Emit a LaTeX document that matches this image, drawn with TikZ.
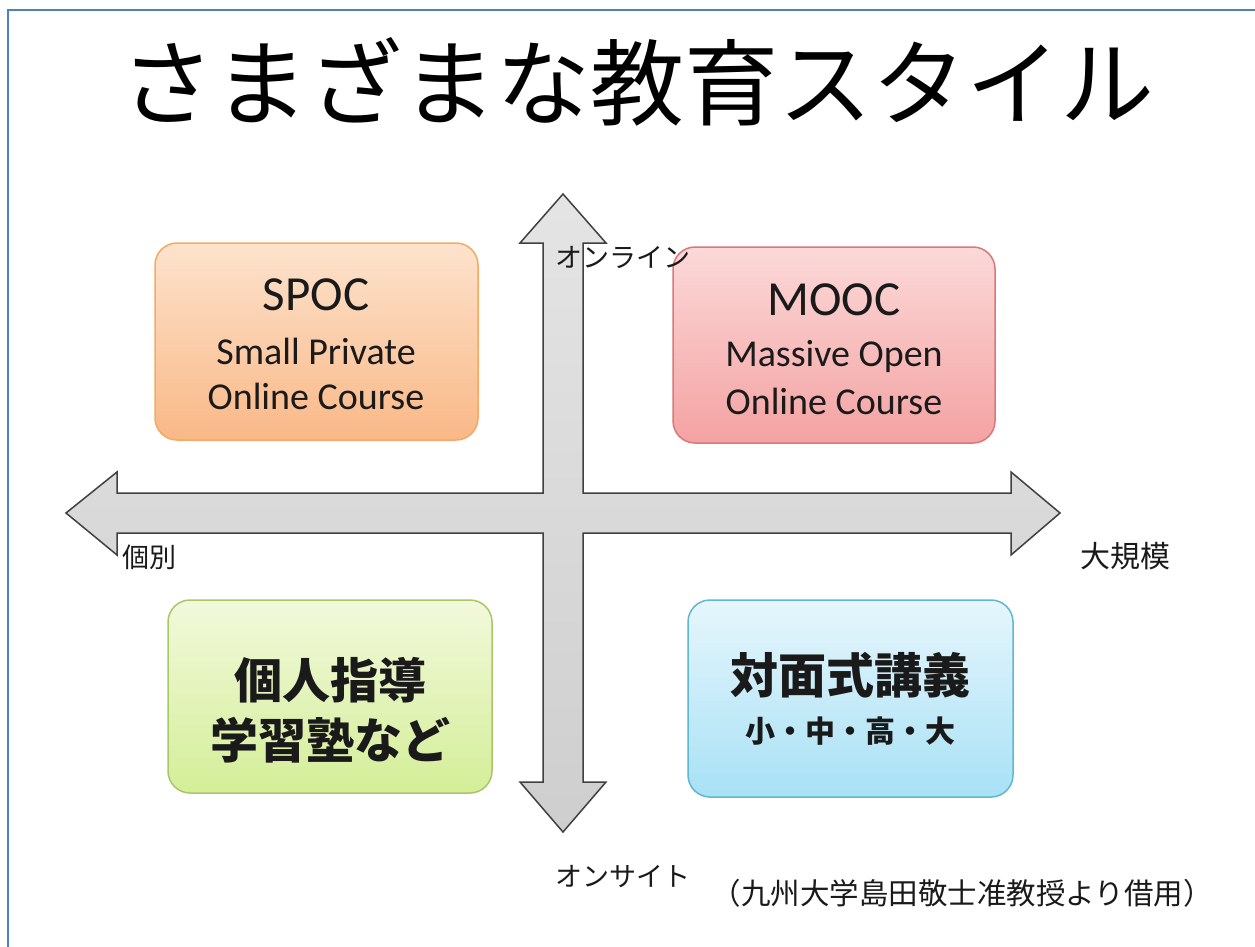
\documentclass[tikz,border=0pt]{standalone}
\usepackage{fontspec}
\setmainfont{Noto Sans CJK JP}
\newfontfamily\latinfont{Carlito}
\definecolor{frameblue}{HTML}{4F81BD}
\definecolor{arrowfill}{HTML}{D9D9D9}
\definecolor{arrowline}{HTML}{404040}
\definecolor{spoctop}{HTML}{FDE3CD}
\definecolor{spocbot}{HTML}{F9B887}
\definecolor{spocline}{HTML}{F5A962}
\definecolor{mooctop}{HTML}{FCD9D9}
\definecolor{moocbot}{HTML}{F4A2A2}
\definecolor{moocline}{HTML}{D9787A}
\definecolor{greentop}{HTML}{F2F9DC}
\definecolor{greenbot}{HTML}{D4EE98}
\definecolor{greenline}{HTML}{A9C66A}
\definecolor{bluetop}{HTML}{E6F6FC}
\definecolor{bluebot}{HTML}{A8E1F5}
\definecolor{blueline}{HTML}{5FB8D0}
\definecolor{txt}{HTML}{1A1A1A}
\begin{document}
\begin{tikzpicture}[x=1pt,y=-1pt,
  quad/.style={rounded corners=22, line width=1.5, minimum width=#1, inner sep=0},
  axislabel/.style={font=\fontsize{27}{30}\selectfont, text=txt, inner sep=0},
  boxtitle/.style={font=\latinfont\fontsize{49}{52}\selectfont, text=txt, inner sep=0},
  boxsub/.style={font=\latinfont\fontsize{38}{42}\selectfont, text=txt, inner sep=0},
  boxcjk/.style={font=\bfseries\fontsize{48}{52}\selectfont, text=txt, inner sep=0},
  boxcjksmall/.style={font=\bfseries\fontsize{30}{34}\selectfont, text=txt, inner sep=0}
]
\useasboundingbox (0,0) rectangle (1255,947);
\fill[white] (0,0) rectangle (1255,947);
% frame (left and top edges visible)
\coordinate (fbl) at (8,947);
\coordinate (ftl) at (8,10);
\coordinate (ftr) at (1255,10);
\draw[frameblue, line width=2.5] (fbl) -- (ftl) -- (ftr);

% title
\node[font=\fontsize{94}{100}\selectfont, inner sep=0] (title) at (637,82) {さまざまな教育スタイル};

% cross-shaped double arrows
\draw[arrowline, line width=1.5, line join=miter, top color=arrowfill!70, bottom color=arrowfill!95!black]
  (563,194) -- (606,243) -- (583,243) -- (583,493) -- (1011,493) -- (1011,472)
  -- (1060,513) -- (1011,555) -- (1011,533) -- (583,533) -- (583,782) -- (606,782)
  -- (563,832) -- (520,782) -- (543,782) -- (543,533) -- (117,533) -- (117,555)
  -- (66,513) -- (117,472) -- (117,493) -- (543,493) -- (543,243) -- (520,243) -- cycle;

% quadrant boxes
\node[quad=323, minimum height=197, draw=spocline, top color=spoctop, bottom color=spocbot] (spoc) at (316.5,341.5) {};
\node[quad=322, minimum height=196, draw=moocline, top color=mooctop, bottom color=moocbot] (mooc) at (834,345) {};
\node[quad=324, minimum height=193, draw=greenline, top color=greentop, bottom color=greenbot] (kojin) at (330,696.5) {};
\node[quad=325, minimum height=197, draw=blueline, top color=bluetop, bottom color=bluebot] (taimen) at (850.5,698.5) {};

% box texts
\node[boxtitle] (spoct) at (316,295) {SPOC};
\node[boxsub] (spocs1) at (316,351) {Small Private};
\node[boxsub] (spocs2) at (316,396) {Online Course};
\node[boxtitle] (mooct) at (834,300) {MOOC};
\node[boxsub] (moocs1) at (834,356) {Massive Open};
\node[boxsub] (moocs2) at (834,401) {Online Course};
\node[boxcjk] (kojin1) at (330,680) {個人指導};
\node[boxcjk] (kojin2) at (330,740) {学習塾など};
\node[boxcjk] (taimen1) at (850,675) {対面式講義};
\node[boxcjksmall] (taimen2) at (850,731) {小・中・高・大};

% axis labels
\node[axislabel, anchor=west] (online) at (555,257) {オンライン};
\node[axislabel, anchor=west] (onsite) at (555,877) {オンサイト};
\node[axislabel, anchor=west] (kobetsu) at (122,557) {個別};
\node[axislabel, anchor=west, font=\fontsize{30}{32}\selectfont] (daikibo) at (1080,556) {大規模};

% credit
\node[axislabel, anchor=east, font=\fontsize{29.5}{32}\selectfont] (credit) at (1213,893) {（九州大学島田敬士准教授より借用）};
\end{tikzpicture}
\end{document}
